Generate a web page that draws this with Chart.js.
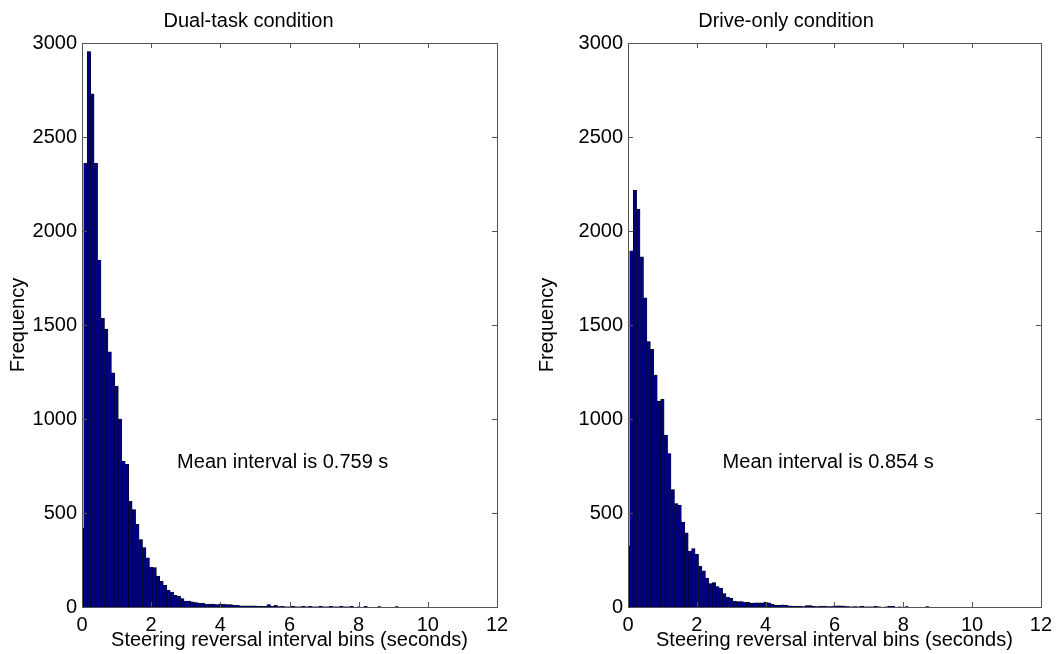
<!DOCTYPE html>
<html lang="en">
<head>
    <meta charset="UTF-8">
    <title>Steering reversal intervals</title>
    <style>
        body {
            margin: 0;
            background: #fff;
            overflow: hidden;
        }
        .panel {
            position: absolute;
            top: 0;
        }
        #dualPanel { left: 0; }
        #drivePanel { left: 529px; }
    </style>
</head>
<body>
    <div class="panel" id="dualPanel"><canvas id="dualChart" width="529" height="654"></canvas></div>
    <div class="panel" id="drivePanel"><canvas id="driveChart" width="529" height="654"></canvas></div>

    <script src="https://cdn.jsdelivr.net/npm/chart.js"></script>
    <script>
        // histogram bins are 0.1 s wide, centred on 0, 0.1, 0.2, ...
        const binWidth = 0.1;
        const xTicks = [0, 2, 4, 6, 8, 10, 12];
        const yTicks = [0, 500, 1000, 1500, 2000, 2500, 3000];

        const dualCounts = [
            419, 2360, 2954, 2729, 2360, 1845, 1535, 1478, 1357, 1245,
            1175, 999, 775, 759, 562, 518, 440, 359, 316, 261,
            213, 210, 165, 137, 115, 89, 80, 62, 57, 45,
            32, 32, 27, 23, 20, 20, 16, 16, 16, 13,
            16, 16, 13, 13, 9, 9, 6, 6, 6, 6,
            6, 4, 3, 3, 13, 3, 9, 2, 4, 1,
            1, 4, 1, 1, 4, 1, 4, 1, 1, 4,
            1, 1, 4, 1, 1, 4, 1, 1, 4, 0,
            1, 0, 3, 0, 0, 0, 2, 0, 0, 0,
            0, 2
        ];
        const driveCounts = [
            325, 1895, 2218, 2117, 1863, 1645, 1412, 1370, 1233, 1095,
            1104, 914, 816, 625, 550, 541, 452, 394, 298, 311,
            280, 218, 192, 154, 124, 130, 109, 100, 71, 53,
            46, 32, 29, 29, 25, 25, 20, 22, 22, 22,
            25, 22, 14, 9, 9, 12, 9, 6, 4, 4,
            3, 2, 7, 7, 3, 2, 5, 5, 2, 2,
            6, 6, 6, 5, 2, 1, 2, 1, 5, 1,
            1, 1, 4, 1, 0, 1, 4, 4, 0, 1,
            0, 2, 0, 0, 0, 0, 0, 2
        ];

        const FONT = "'Liberation Sans', Arial, sans-serif";
        Chart.defaults.font.family = FONT;
        Chart.defaults.font.size = 20;
        Chart.defaults.color = '#000';

        // MATLAB-style frame: box on all sides, ticks pointing inwards, plus the text note
        const boxTicks = {
            id: 'boxTicks',
            afterDatasetsDraw(chart, args, opts) {
                const { ctx, chartArea: a, scales: { x, y } } = chart;
                const len = 5;
                ctx.save();
                ctx.strokeStyle = '#555';
                ctx.lineWidth = 1;
                ctx.beginPath();
                xTicks.forEach(v => {
                    const px = Math.round(x.getPixelForValue(v)) + 0.5;
                    ctx.moveTo(px, a.bottom); ctx.lineTo(px, a.bottom - len);
                    ctx.moveTo(px, a.top); ctx.lineTo(px, a.top + len);
                });
                yTicks.forEach(v => {
                    const py = Math.round(y.getPixelForValue(v)) + 0.5;
                    ctx.moveTo(a.left, py); ctx.lineTo(a.left + len, py);
                    ctx.moveTo(a.right, py); ctx.lineTo(a.right - len, py);
                });
                ctx.stroke();
                ctx.strokeRect(Math.round(a.left) + 0.5, Math.round(a.top) + 0.5,
                    Math.round(a.right - a.left), Math.round(a.bottom - a.top));

                if (opts.note) {
                    ctx.fillStyle = '#000';
                    ctx.font = '20px ' + FONT;
                    ctx.textAlign = 'left';
                    ctx.textBaseline = 'middle';
                    ctx.fillText(opts.note.text, x.getPixelForValue(opts.note.x), y.getPixelForValue(opts.note.y));
                }
                ctx.restore();
            }
        };

        function makeHistogram(canvasId, title, counts, note, axisLeft, padRight) {
            return new Chart(document.getElementById(canvasId), {
                type: 'bar',
                data: {
                    datasets: [{
                        data: counts.map((c, i) => ({ x: i * binWidth, y: c })),
                        backgroundColor: '#000080',
                        borderColor: '#000000',
                        borderWidth: 0.5,
                        borderSkipped: 'start',
                        barPercentage: 1,
                        categoryPercentage: 1,
                        clip: 0
                    }]
                },
                options: {
                    responsive: false,
                    animation: false,
                    devicePixelRatio: 1,
                    layout: { padding: { left: 0, right: padRight, top: 0, bottom: 0 } },
                    plugins: {
                        legend: { display: false },
                        tooltip: { enabled: false },
                        title: {
                            display: true,
                            text: title,
                            font: { size: 20, weight: 'normal', lineHeight: 1.2 },
                            color: '#000',
                            padding: { top: 9, bottom: 10 }
                        },
                        boxTicks: { note }
                    },
                    scales: {
                        x: {
                            type: 'linear',
                            min: 0,
                            max: 12,
                            offset: false,
                            grid: { display: false, drawTicks: false },
                            border: { display: false },
                            ticks: { stepSize: 2, padding: 6, maxRotation: 0, autoSkip: false,
                                callback: (v) => String(v) },
                            title: {
                                display: true,
                                text: 'Steering reversal interval bins (seconds)',
                                font: { size: 20 },
                                padding: { top: 0, bottom: 2 }
                            },
                            afterFit: (scale) => { scale.height = 47; }
                        },
                        y: {
                            min: 0,
                            max: 3000,
                            grid: { display: false, drawTicks: false },
                            border: { display: false },
                            ticks: { stepSize: 500, padding: 5, callback: (v) => String(v) },
                            title: {
                                display: true,
                                text: 'Frequency',
                                font: { size: 20 },
                                padding: { top: 6, bottom: 0 }
                            },
                            afterFit: (scale) => { scale.width = axisLeft; }
                        }
                    }
                },
                plugins: [boxTicks]
            });
        }

        makeHistogram('dualChart', 'Dual-task condition', dualCounts,
            { x: 2.75, y: 770, text: 'Mean interval is 0.759 s' }, 82, 32);
        makeHistogram('driveChart', 'Drive-only condition', driveCounts,
            { x: 2.75, y: 770, text: 'Mean interval is 0.854 s' }, 99, 15);
    </script>
</body>
</html>
